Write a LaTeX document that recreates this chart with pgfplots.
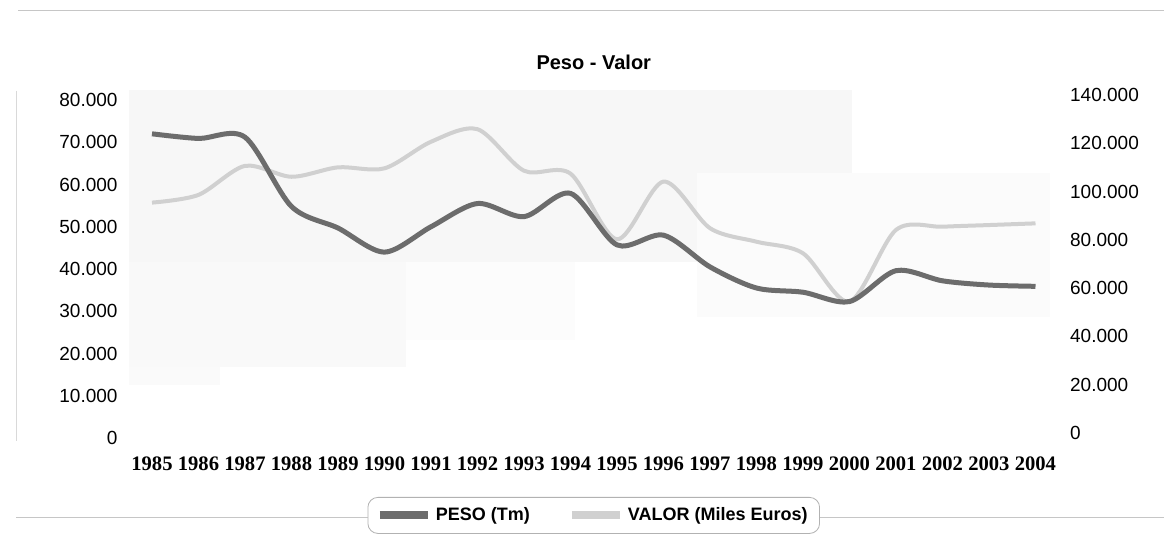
\documentclass[border=0pt]{standalone}
\usepackage{fontspec}
\setmainfont{Liberation Sans}
\newfontfamily\seriffont{Liberation Serif}
\usepackage{pgfplots}
\pgfplotsset{compat=1.18}
\definecolor{pesoc}{RGB}{108,108,108}
\definecolor{valorc}{RGB}{208,208,208}

\pgfplotstableread{
year peso
1985 72000
1986 70900
1987 71200
1988 54800
1989 49700
1990 44000
1991 50000
1992 55500
1993 52400
1994 57900
1995 45700
1996 48000
1997 40500
1998 35500
1999 34500
2000 32300
2001 39600
2002 37200
2003 36200
2004 35900
}\pesodata

\pgfplotstableread{
year valor
1985 97500
1986 100700
1987 112700
1988 108200
1989 112100
1990 111700
1991 122700
1992 127900
1993 110700
1994 109500
1995 82300
1996 106200
1997 86900
1998 81300
1999 76500
2000 56500
2001 86200
2002 87500
2003 88200
2004 88900
}\valordata

\pgfplotsset{
  common/.style={
    at={(64.375pt,48.5pt)}, anchor=south west,
    scale only axis, width=465pt, height=169pt,
    xmin=1984.5, xmax=2004.5,
    xtick={1985,...,2004},
    scaled x ticks=false,
    scaled y ticks=false,
    axis line style={draw=none},
    major tick length=0pt,
    yticklabel style={font=\fontsize{9.5}{11}\selectfont},
    clip=false,
  },
  pesostyle/.style={color=pesoc, line width=2.5pt, smooth, no markers},
  valorstyle/.style={color=valorc, line width=2pt, smooth, no markers},
}

\begin{document}
\begin{tikzpicture}[x=1pt,y=1pt]
\useasboundingbox (0,0) rectangle (582,267.5);
\fill[white] (0,0) rectangle (582,267.5);
% scanned background patches
\fill[gray!6] (64.5,136.5) rectangle (426,222.5);
\fill[gray!5] (64.5,84) rectangle (203,136.5);
\fill[gray!4] (64.5,75) rectangle (110,84);
\fill[gray!2.5] (203,97.5) rectangle (287.5,136.5);
\fill[gray!3.5] (348.5,109) rectangle (525,181);
% outer frame remnants
\draw[gray!45, line width=0.5pt] (9,262) -- (582,262);
\draw[gray!30, line width=0.5pt] (8,222) -- (8,47);
\draw[gray!45, line width=0.5pt] (8,8.5) -- (186,8.5);
\draw[gray!45, line width=0.5pt] (410,8.5) -- (582,8.5);

% right axis: VALOR
\begin{axis}[common,
  ymin=0, ymax=140000,
  ytick={0,20000,40000,60000,80000,100000,120000,140000},
  yticklabels={0,20.000,40.000,60.000,80.000,100.000,120.000,140.000},
  axis y line*=right,
  hide x axis,
  yticklabel style={inner sep=0pt, anchor=west, xshift=5.5pt, yshift=2.5pt},
]
\addplot[valorstyle] table[x=year, y=valor] {\valordata};
\end{axis}

% left axis: PESO
\begin{axis}[common,
  ymin=0, ymax=80000,
  ytick={0,10000,20000,30000,40000,50000,60000,70000,80000},
  yticklabels={0,10.000,20.000,30.000,40.000,50.000,60.000,70.000,80.000},
  axis y line*=left,
  axis x line*=bottom,
  xticklabels={1985,1986,1987,1988,1989,1990,1991,1992,1993,1994,1995,1996,1997,1998,1999,2000,2001,2002,2003,2004},
  xticklabel style={font=\seriffont\bfseries\fontsize{10.3}{12}\selectfont, anchor=north, yshift=-6pt},
  yticklabel style={inner sep=0pt, anchor=east, xshift=-5.4pt},
  title={Peso - Valor},
  title style={font=\bfseries\fontsize{10}{12}\selectfont, at={(0.5,1)}, anchor=center, yshift=13pt},
  legend columns=2,
  legend style={at={(0.5,0)}, anchor=north, yshift=-29.5pt, draw=gray!60,
    rounded corners=5pt, inner xsep=4pt, inner ysep=3pt,
    font=\bfseries\fontsize{9}{10}\selectfont,
    /tikz/every even column/.append style={column sep=17pt}},
  legend image code/.code={\draw[#1, line width=4pt] (0pt,0pt) -- (24pt,0pt);},
]
\addplot[pesostyle] table[x=year, y=peso] {\pesodata};
\addlegendentry{PESO (Tm)}
\addlegendimage{valorstyle}
\addlegendentry{VALOR (Miles Euros)}
\end{axis}
\end{tikzpicture}
\end{document}
